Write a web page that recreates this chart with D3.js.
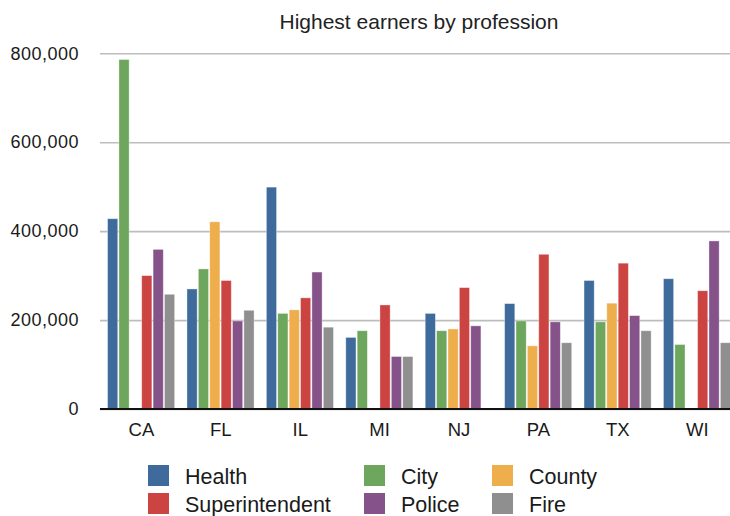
<!DOCTYPE html>
<html>
<head>
<meta charset="utf-8">
<script src="https://cdn.jsdelivr.net/npm/d3@7"></script>
<style>
  body { margin: 0; background: #fff; }
  svg { display: block; font-family: "Liberation Sans", Arial, Helvetica, sans-serif; }
</style>
</head>
<body>
<div id="chart"></div>
<script>
// Highest earners by profession — grouped bars per state

const states = ["CA", "FL", "IL", "MI", "NJ", "PA", "TX", "WI"];
const professions = ["Health", "City", "County", "Superintendent", "Police", "Fire"];

// values (null = no bar)
const health         = [428000, 270000, 499000, 161000, 215000, 237000, 289000, 293000];
const city           = [786000, 315000, 215000, 176000, 176000, 198000, 196000, 145000];
const county         = [null,   421000, 223000, null,   180000, 142000, 238000, null];
const superintendent = [300000, 289000, 250000, 234000, 273000, 348000, 328000, 266000];
const police         = [359000, 198000, 308000, 118000, 187000, 196000, 210000, 378000];
const fire           = [258000, 222000, 184000, 118000, null,   149000, 176000, 149000];

const yTicks = [0, 200000, 400000, 600000, 800000];
const colors = ["#3e6b9c", "#6da65c", "#eeae4c", "#cc4441", "#85528a", "#8f8f8f"];

const seriesValues = [health, city, county, superintendent, police, fire];

// table built from the arrays
const data = states.map((s, i) => ({
  state: s,
  values: professions.map((p, j) => ({ key: p, value: seriesValues[j][i] }))
}));

const W = 730, H = 516;

const svg = d3.select("#chart")
  .append("svg")
  .attr("width", W)
  .attr("height", H);

const x0 = d3.scaleBand()
  .domain(states)
  .range([101.7, 737])
  .paddingInner(0.14)
  .paddingOuter(0.07);

const x1 = d3.scaleBand()
  .domain(professions)
  .range([0, x0.bandwidth()]);

const y = d3.scaleLinear()
  .domain([0, 800000])
  .range([409, 53.3]);

const color = d3.scaleOrdinal().domain(professions).range(colors);

// gridlines + y labels
const yAxis = svg.append("g")
  .attr("transform", "translate(100,0)")
  .call(d3.axisLeft(y).tickValues(yTicks).tickFormat(d3.format(",")).tickSize(-640).tickPadding(21));

yAxis.select(".domain").remove();
yAxis.selectAll(".tick line")
  .attr("stroke", "#bdbdbd")
  .attr("stroke-width", 1.6);
yAxis.selectAll(".tick text")
  .attr("fill", "#1a1a1a")
  .style("font-size", "18px")
  .style("letter-spacing", "0.5px");

// bars
const groups = svg.selectAll(".grp")
  .data(data)
  .enter()
  .append("g")
  .attr("class", "grp")
  .attr("transform", d => `translate(${x0(d.state)},0)`);

groups.selectAll("rect")
  .data(d => d.values.filter(v => v.value != null))
  .enter()
  .append("rect")
  .attr("x", d => x1(d.key) + 0.3)
  .attr("width", x1.bandwidth() - 1.2)
  .attr("y", d => y(d.value))
  .attr("height", d => y(0) - y(d.value))
  .attr("fill", d => color(d.key))
  .attr("stroke", "#fff")
  .attr("stroke-opacity", 0.45)
  .attr("stroke-width", 0.8);

// baseline
svg.append("line")
  .attr("x1", 100)
  .attr("x2", W)
  .attr("y1", y(0))
  .attr("y2", y(0))
  .attr("stroke", "#111")
  .attr("stroke-width", 2);

// x labels
svg.append("g")
  .attr("transform", `translate(0,${y(0)})`)
  .call(d3.axisBottom(x0).tickSize(0).tickPadding(14))
  .call(g => g.select(".domain").remove())
  .selectAll("text")
  .attr("fill", "#1a1a1a")
  .style("font-size", "18.5px");

// title
svg.append("text")
  .attr("x", 419)
  .attr("y", 29)
  .attr("text-anchor", "middle")
  .style("font-size", "21px")
  .style("fill", "#222")
  .text("Highest earners by profession");

// legend: 3 columns x 2 rows
const colX = [148, 364, 492];
const rowY = [465, 493];
const legend = svg.append("g");

professions.forEach((p, i) => {
  const col = i % 3, row = Math.floor(i / 3);
  const g = legend.append("g")
    .attr("transform", `translate(${colX[col]},${rowY[row]})`);

  g.append("rect")
    .attr("width", 21)
    .attr("height", 21)
    .attr("fill", color(p));

  g.append("text")
    .attr("x", 37)
    .attr("y", 19)
    .style("font-size", "21.5px")
    .style("fill", "#1a1a1a")
    .text(p);
});
</script>
</body>
</html>
